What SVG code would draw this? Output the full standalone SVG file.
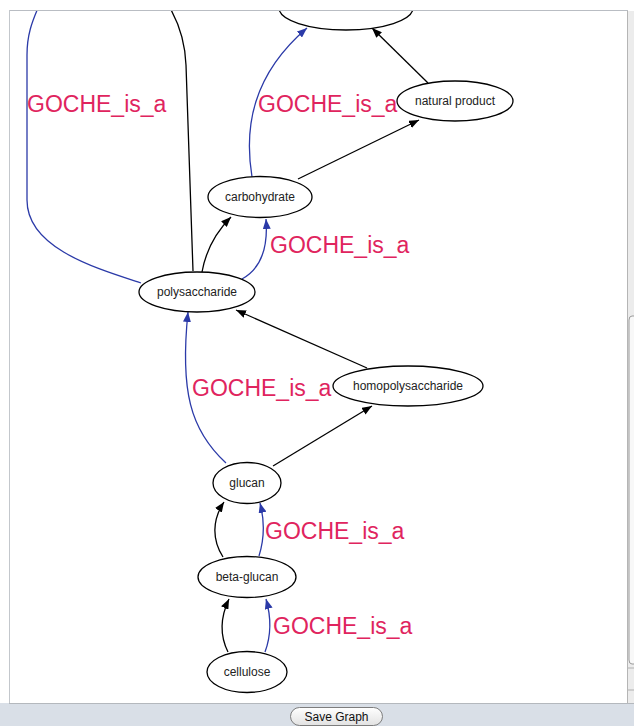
<svg xmlns="http://www.w3.org/2000/svg" width="634" height="726" viewBox="0 0 634 726">
  <defs>
    <marker id="ah-black" markerWidth="10" markerHeight="8" refX="10" refY="4" orient="auto" markerUnits="userSpaceOnUse">
      <path d="M0,0 L10,4 L0,8 Z" fill="#000"/>
    </marker>
    <marker id="ah-blue" markerWidth="10" markerHeight="8" refX="10" refY="4" orient="auto" markerUnits="userSpaceOnUse">
      <path d="M0,0 L10,4 L0,8 Z" fill="#2b3aa8"/>
    </marker>
    <clipPath id="view">
      <rect x="10" y="11" width="617" height="692"/>
    </clipPath>
    <linearGradient id="btn" x1="0" y1="0" x2="0" y2="1">
      <stop offset="0" stop-color="#ffffff"/>
      <stop offset="1" stop-color="#e2e2e2"/>
    </linearGradient>
  </defs>
  <style>
    .node ellipse { fill: #fff; stroke: #000; stroke-width: 1.3; }
    .node text { font-family: "Liberation Sans", Arial, sans-serif; font-size: 12px; fill: #222; text-anchor: middle; }
    .e-black { fill: none; stroke: #000; stroke-width: 1.3; marker-end: url(#ah-black); }
    .e-blue { fill: none; stroke: #2b3aa8; stroke-width: 1.3; marker-end: url(#ah-blue); }
    .e-plain-black { fill: none; stroke: #000; stroke-width: 1.3; }
    .e-plain-blue { fill: none; stroke: #2b3aa8; stroke-width: 1.3; }
    .lbl { font-family: "Liberation Sans", Arial, sans-serif; font-size: 23px; fill: #e0245e; }
  </style>

  <rect x="0" y="0" width="634" height="726" fill="#fff"/>

  <g clip-path="url(#view)">
    <!-- connectors -->
    <g id="edges">
      <path class="e-plain-blue" d="M141,283 C95,268 27,248 27,200 L27,55 C27,35 32,22 38,8"/>
      <path class="e-plain-black" d="M193,271 L186,65 C185,40 178,22 170,8"/>
      <path class="e-blue" d="M252,177 C244,128 252,75 307,28"/>
      <path class="e-black" d="M428,83 L372,28"/>
      <path class="e-black" d="M298,179 L419,120"/>
      <path class="e-black" d="M202,272 C206,250 216,232 231,217"/>
      <path class="e-blue" d="M242,279 C262,268 268,245 266,219"/>
      <path class="e-black" d="M367,368 L236,310"/>
      <path class="e-blue" d="M226,463 C190,430 180,390 188,312"/>
      <path class="e-black" d="M273,466 L372,406"/>
      <path class="e-black" d="M223,557 C212,540 212,520 224,502"/>
      <path class="e-blue" d="M259,556 C264,540 265,522 260,503"/>
      <path class="e-black" d="M228,652 C220,636 220,618 229,599"/>
      <path class="e-blue" d="M265,652 C271,636 272,620 266,599"/>
    </g>

    <!-- edge labels -->
    <g id="labels">
      <text class="lbl" x="27" y="112">GOCHE_is_a</text>
      <text class="lbl" x="258" y="112">GOCHE_is_a</text>
      <text class="lbl" x="270" y="253">GOCHE_is_a</text>
      <text class="lbl" x="192" y="396">GOCHE_is_a</text>
      <text class="lbl" x="265" y="539">GOCHE_is_a</text>
      <text class="lbl" x="273" y="634">GOCHE_is_a</text>
    </g>

    <!-- nodes -->
    <g id="node-top" class="node">
      <ellipse cx="346" cy="8" rx="67" ry="22"/>
    </g>
    <g id="node-natural-product" class="node">
      <ellipse cx="455" cy="101" rx="58" ry="20"/>
      <text x="455" y="105">natural product</text>
    </g>
    <g id="node-carbohydrate" class="node">
      <ellipse cx="260" cy="197" rx="52" ry="20.5"/>
      <text x="260" y="201">carbohydrate</text>
    </g>
    <g id="node-polysaccharide" class="node">
      <ellipse cx="197" cy="292" rx="58" ry="20"/>
      <text x="197" y="296">polysaccharide</text>
    </g>
    <g id="node-homopolysaccharide" class="node">
      <ellipse cx="408" cy="386" rx="75" ry="20"/>
      <text x="408" y="390">homopolysaccharide</text>
    </g>
    <g id="node-glucan" class="node">
      <ellipse cx="247" cy="483" rx="34" ry="20.5"/>
      <text x="247" y="487">glucan</text>
    </g>
    <g id="node-beta-glucan" class="node">
      <ellipse cx="247" cy="577" rx="49" ry="20.5"/>
      <text x="247" y="581">beta-glucan</text>
    </g>
    <g id="node-cellulose" class="node">
      <ellipse cx="247" cy="672" rx="40" ry="20.5"/>
      <text x="247" y="676">cellulose</text>
    </g>
  </g>

  <!-- viewport frame -->
  <line x1="9" y1="10.5" x2="628" y2="10.5" stroke="#b9bdc3" stroke-width="1"/>
  <line x1="9.5" y1="10" x2="9.5" y2="703" stroke="#c3c7cc" stroke-width="1"/>

  <!-- scrollbar -->
  <rect x="627" y="11" width="7" height="692" fill="#ececec"/>
  <line x1="627.5" y1="11" x2="627.5" y2="703" stroke="#b5b5b5"/>
  <path d="M634,316 L632,316 Q629,316 629,320 L629,660 Q629,664 632,664 L634,664" fill="#f8f8f8" stroke="#9a9a9a"/>
  <line x1="628" y1="668" x2="634" y2="668" stroke="#b0b0b0"/>
  <line x1="628" y1="690" x2="634" y2="690" stroke="#b0b0b0"/>

  <!-- bottom toolbar -->
  <rect x="0" y="703" width="634" height="23" fill="#d9dfe7"/>
  <line x1="9" y1="703.5" x2="634" y2="703.5" stroke="#b4b8bd"/>
  <g id="save-graph">
    <rect x="290.5" y="707.5" width="92" height="18" rx="9" fill="url(#btn)" stroke="#7d7d7d"/>
    <text x="336.5" y="721" font-family="'Liberation Sans', Arial, sans-serif" font-size="12" fill="#111" text-anchor="middle">Save Graph</text>
  </g>
</svg>
